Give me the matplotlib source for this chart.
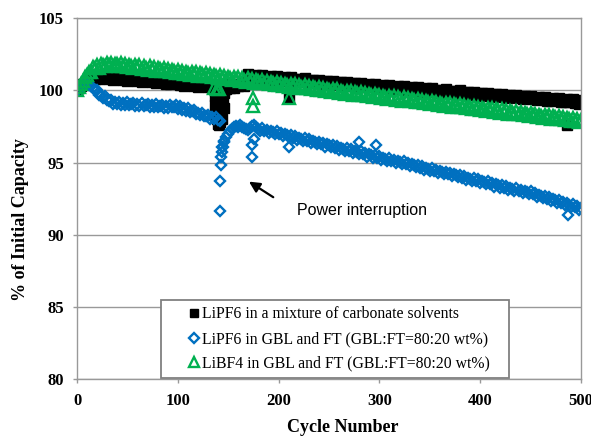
import numpy as np
import matplotlib
matplotlib.use("Agg")
import matplotlib.pyplot as plt

# ============================================================
# Data (every 2 cycles)
# ============================================================
cycles = np.arange(0, 501, 2)

lipf6_carbonate = [
    # 0 - 28
    100.00, 100.15, 100.30, 100.42, 100.55, 100.65, 100.74, 100.80, 100.99, 100.80,
    100.97, 100.81, 101.04, 100.89, 100.94,
    # 30 - 140
    101.03, 100.79, 100.92, 100.73, 100.95, 100.80, 100.85, 100.95, 100.71, 100.84,
    100.65, 100.87, 100.72, 100.78, 100.88, 100.64, 100.76, 100.57, 100.79, 100.64,
    100.70, 100.80, 100.56, 100.69, 100.50, 100.72, 100.56, 100.62, 100.72, 100.48,
    100.61, 100.42, 100.64, 100.49, 100.55, 100.65, 100.40, 100.53, 100.34, 100.56,
    100.41, 100.47, 100.57, 100.33, 100.46, 100.27, 100.48, 100.33, 100.39, 100.49,
    100.25, 100.38, 100.19, 100.41, 100.26, 100.31,
    # 142 - 168 (power interruption)
    99.60, 98.00, 98.80, 100.10, 100.43, 100.20, 100.34, 100.18, 100.43, 100.31,
    100.40, 100.53, 100.32, 100.49,
    # 170 - 500
    101.13, 100.89, 101.02, 100.83, 101.05, 100.90, 100.96,
    101.05, 100.81, 100.94, 100.75, 100.97, 100.82, 100.88,
    100.98, 100.74, 100.87, 100.68, 100.90, 100.75, 100.80,
    100.90, 100.66, 100.79, 100.60, 100.82, 100.67, 100.73,
    100.83, 100.59, 100.72, 100.53, 100.75, 100.59, 100.65,
    100.75, 100.51, 100.64, 100.45, 100.67, 100.52, 100.58,
    100.68, 100.44, 100.56, 100.37, 100.59, 100.44, 100.50,
    100.60, 100.36, 100.49, 100.30, 100.52, 100.37, 100.43,
    100.53, 100.28, 100.41, 100.22, 100.44, 100.29, 100.35,
    100.45, 100.21, 100.34, 100.15, 100.37, 100.22, 100.28,
    100.37, 100.13, 100.26, 100.07, 100.29, 100.14, 100.20,
    100.30, 100.06, 100.19, 100.00, 100.22, 100.06, 100.12,
    100.22, 99.98, 100.11, 99.92, 100.14, 99.99, 100.05,
    100.15, 99.91, 100.04, 99.85, 100.06, 99.91, 99.97,
    100.07, 99.83, 99.96, 99.77, 99.99, 99.84, 99.90,
    100.00, 99.76, 99.88, 99.69, 99.91, 99.76, 99.82,
    99.92, 99.68, 99.81, 99.62, 99.84, 99.69, 99.75,
    99.85, 99.60, 99.73, 99.54, 99.76, 99.61, 99.67,
    99.77, 99.53, 99.66, 99.47, 99.69, 99.54, 99.59,
    99.69, 99.45, 99.58, 99.39, 99.61, 99.46, 99.52,
    99.62, 99.38, 99.51, 99.32, 99.54, 99.38, 99.44,
    99.54, 99.30, 99.43, 99.24, 99.46, 99.31, 99.37,
    99.47, 99.23, 99.36, 99.17, 99.38, 99.23, 99.29,
    99.39, 99.15, 99.28, 99.09, 99.31,
]

lipf6_gbl_ft = [
    # 0 - 40
    100.00, 100.12, 100.25, 100.36, 100.44, 100.46, 100.40, 100.30, 100.17, 100.03,
    100.00, 99.66, 99.71, 99.47, 99.58, 99.31, 99.30, 99.34, 99.07, 99.20,
    99.04,
    # 42 - 100
    99.20, 98.97, 99.13, 98.99, 99.20, 99.00, 99.05,
    99.14, 98.91, 99.07, 98.93, 99.14, 98.94, 98.99,
    99.08, 98.85, 99.01, 98.87, 99.08, 98.88, 98.93,
    99.02, 98.79, 98.95, 98.81, 99.02, 98.82, 98.87,
    98.96, 98.73,
    # 102 - 140
    98.90, 98.64, 98.77, 98.59, 98.76, 98.53, 98.55, 98.61, 98.34, 98.47,
    98.30, 98.47, 98.24, 98.25, 98.31, 98.05, 98.18, 98.01, 98.17, 97.94,
    # 142 - 180 (recovery after the interruption)
    97.85, 96.10, 96.50, 96.80, 97.00, 97.20, 97.35, 97.45, 97.55, 97.50,
    97.60, 97.45, 97.40, 97.30, 97.25, 97.40, 97.55, 97.60, 97.45, 97.35,
    # 182 - 500
    97.20, 97.39, 97.19, 97.29, 97.04, 97.19, 97.11,
    96.97, 97.16, 96.96, 97.06, 96.81, 96.95, 96.88,
    96.74, 96.93, 96.73, 96.83, 96.58, 96.72, 96.65,
    96.51, 96.69, 96.50, 96.60, 96.35, 96.49, 96.42,
    96.28, 96.46, 96.27, 96.37, 96.11, 96.26, 96.19,
    96.05, 96.23, 96.04, 96.14, 95.88, 96.03, 95.96,
    95.81, 96.00, 95.81, 95.91, 95.65, 95.80, 95.73,
    95.58, 95.77, 95.58, 95.67, 95.42, 95.57, 95.50,
    95.35, 95.54, 95.35, 95.44, 95.19, 95.34, 95.26,
    95.12, 95.31, 95.12, 95.21, 94.96, 95.11, 95.03,
    94.89, 95.08, 94.88, 94.98, 94.73, 94.88, 94.80,
    94.66, 94.85, 94.65, 94.75, 94.50, 94.64, 94.57,
    94.43, 94.62, 94.42, 94.52, 94.27, 94.41, 94.34,
    94.20, 94.38, 94.19, 94.29, 94.04, 94.18, 94.11,
    93.97, 94.15, 93.96, 94.06, 93.80, 93.95, 93.88,
    93.74, 93.92, 93.73, 93.83, 93.57, 93.72, 93.65,
    93.50, 93.69, 93.50, 93.60, 93.34, 93.49, 93.42,
    93.27, 93.46, 93.27, 93.36, 93.11, 93.26, 93.19,
    93.04, 93.23, 93.04, 93.13, 92.88, 93.03, 92.95,
    92.81, 93.00, 92.80, 92.88, 92.62, 92.76, 92.68,
    92.53, 92.70, 92.50, 92.59, 92.33, 92.47, 92.38,
    92.23, 92.41, 92.21, 92.30, 92.03, 92.17, 92.09,
    91.94, 92.12, 91.91, 92.00, 91.74, 91.88,
]

libf4_gbl_ft = [
    # 0 - 40
    100.00, 100.22, 100.45, 100.68, 100.90, 101.08, 101.25, 101.28, 101.63, 101.55,
    101.76, 101.56, 101.80, 101.77, 101.69, 101.93, 101.78, 101.92, 101.67, 101.86,
    101.80,
    # 42 - 500
    101.68, 101.90, 101.72, 101.85, 101.62, 101.78, 101.70,
    101.56, 101.78, 101.60, 101.73, 101.50, 101.66, 101.58,
    101.45, 101.66, 101.48, 101.61, 101.38, 101.54, 101.46,
    101.33, 101.54, 101.36, 101.50, 101.26, 101.42, 101.34,
    101.21, 101.42, 101.24, 101.38, 101.14, 101.30, 101.23,
    101.09, 101.30, 101.12, 101.26, 101.02, 101.18, 101.11,
    100.97, 101.18, 101.01, 101.14, 100.90, 101.06, 100.99,
    100.85, 101.06, 100.89, 101.02, 100.78, 100.95, 100.87,
    100.73, 100.94, 100.77, 100.90, 100.66, 100.83, 100.75,
    100.61, 100.83, 100.65, 100.78, 100.54, 100.71, 100.63,
    100.49, 100.71, 100.53, 100.66, 100.43, 100.59, 100.51,
    100.37, 100.59, 100.41, 100.54, 100.31, 100.47, 100.39,
    100.26, 100.47, 100.29, 100.42, 100.19, 100.35, 100.27,
    100.14, 100.35, 100.17, 100.31, 100.07, 100.23, 100.15,
    100.02, 100.23, 100.05, 100.19, 99.95, 100.11, 100.04,
    99.90, 100.11, 99.93, 100.07, 99.83, 99.99, 99.92,
    99.78, 99.99, 99.82, 99.95, 99.71, 99.87, 99.80,
    99.66, 99.87, 99.70, 99.83, 99.59, 99.76, 99.68,
    99.54, 99.75, 99.58, 99.71, 99.47, 99.64, 99.56,
    99.42, 99.64, 99.46, 99.59, 99.35, 99.52, 99.44,
    99.30, 99.52, 99.34, 99.47, 99.24, 99.40, 99.32,
    99.18, 99.40, 99.22, 99.35, 99.12, 99.28, 99.20,
    99.07, 99.28, 99.10, 99.23, 99.00, 99.16, 99.08,
    98.95, 99.16, 98.98, 99.12, 98.88, 99.04, 98.96,
    98.83, 99.04, 98.86, 99.00, 98.76, 98.92, 98.85,
    98.71, 98.92, 98.74, 98.88, 98.64, 98.80, 98.73,
    98.59, 98.80, 98.63, 98.76, 98.52, 98.68, 98.61,
    98.47, 98.68, 98.51, 98.64, 98.40, 98.57, 98.49,
    98.35, 98.56, 98.39, 98.52, 98.28, 98.45, 98.37,
    98.23, 98.45, 98.27, 98.40, 98.16, 98.33, 98.25,
    98.11, 98.33, 98.15, 98.28, 98.05, 98.21, 98.13,
    97.99, 98.21, 98.03, 98.16, 97.93, 98.09, 98.01,
    97.88, 98.09, 97.91, 98.04, 97.81, 97.97,
]

# scattered points around the power interruption and a few odd cycles
black_extra_x = [137, 137, 138, 139, 140, 141, 142, 143, 144, 145, 146, 147, 148,
                 210, 486]
black_extra_y = [99.6, 99.0, 98.4, 98.0, 97.7, 97.6, 97.8, 98.2, 98.8, 99.4, 99.8,
                 100.1, 100.3, 99.5, 97.6]

blue_extra_x = [142, 142, 143, 143, 144, 145, 146, 174, 174, 176, 210, 280, 297, 487]
blue_extra_y = [91.65, 93.7, 94.8, 95.4, 95.7, 96.1, 96.4, 95.4, 96.2, 96.6, 96.1, 96.4, 96.2, 91.4]

green_extra_x = [136, 139, 141, 175, 175, 210]
green_extra_y = [100.15, 100.1, 100.1, 99.5, 98.9, 99.5]

LABELS = [
    "LiPF6 in a mixture of carbonate solvents",
    "LiPF6 in GBL and FT (GBL:FT=80:20 wt%)",
    "LiBF4 in GBL and FT (GBL:FT=80:20 wt%)",
]

BLACK = "#000000"
BLUE = "#0070C0"
GREEN = "#00B050"
GRID = "#999999"

SERIF = ["Liberation Serif", "DejaVu Serif"]
SANS = ["Liberation Sans", "DejaVu Sans"]

# ============================================================
# Figure
# ============================================================
fig = plt.figure(figsize=(5.91, 4.38), dpi=100)
ax = fig.add_axes([77 / 591, 1 - 379 / 438, 504 / 591, 360.7 / 438])

ax.plot(cycles, lipf6_carbonate, ls="none", marker="s", ms=7.2,
        color=BLACK, mec=BLACK, label=LABELS[0])
ax.plot(black_extra_x, black_extra_y, ls="none", marker="s", ms=7.2,
        color=BLACK, mec=BLACK)

ax.plot(cycles, lipf6_gbl_ft, ls="none", marker="D", ms=5.6, mew=1.7,
        mfc="none", mec=BLUE, label=LABELS[1])
ax.plot(blue_extra_x, blue_extra_y, ls="none", marker="D", ms=5.6, mew=1.7,
        mfc="none", mec=BLUE)

ax.plot(cycles, libf4_gbl_ft, ls="none", marker="^", ms=8.0, mew=1.7,
        mfc="none", mec=GREEN, label=LABELS[2])
ax.plot(green_extra_x, green_extra_y, ls="none", marker="^", ms=8.0, mew=1.7,
        mfc="none", mec=GREEN)

ax.set_xlim(0, 500)
ax.set_ylim(80, 105)
ax.set_xticks(range(0, 501, 100))
ax.set_yticks(range(80, 106, 5))

ax.grid(axis="y", color=GRID, lw=1.0)
ax.set_axisbelow(True)
for side in ["left", "right", "top", "bottom"]:
    ax.spines[side].set_color(GRID)
    ax.spines[side].set_linewidth(1.0)

ax.tick_params(axis="both", direction="out", length=3, width=1.0, color=GRID)
ax.tick_params(axis="y", pad=6.5)
ax.tick_params(axis="x", pad=7)
for lab in ax.get_xticklabels() + ax.get_yticklabels():
    lab.set_fontfamily(SERIF)
    lab.set_fontweight("bold")
    lab.set_fontsize(12)

ax.set_xlabel("Cycle Number", fontfamily=SERIF, fontweight="bold", fontsize=13)
ax.set_ylabel("% of Initial Capacity", fontfamily=SERIF, fontweight="bold", fontsize=13)
ax.xaxis.set_label_coords(0.527, -0.111)
ax.yaxis.set_label_coords(-0.095, 0.441)

# annotation for the power interruption
ax.annotate("", xy=(170.6, 93.68), xytext=(194.7, 92.6),
            arrowprops=dict(arrowstyle="-|>", color="black", lw=1.6,
                            mutation_scale=16, shrinkA=0, shrinkB=0))
ax.text(218, 91.37, "Power interruption", fontfamily=SANS, fontsize=11.5,
        va="baseline", ha="left")

leg = ax.legend(loc="lower left", bbox_to_anchor=(0.167, 0.003, 0.69, 0.2),
                mode="expand", frameon=True, fancybox=False, framealpha=1,
                edgecolor="#808080", borderpad=0.4, labelspacing=0.55,
                handlelength=3.4, handletextpad=-1.2, borderaxespad=0,
                markerscale=0.85, prop={"family": SERIF, "size": 11.3})
leg.get_frame().set_linewidth(1.3)

fig.savefig("out.png", dpi=100)
